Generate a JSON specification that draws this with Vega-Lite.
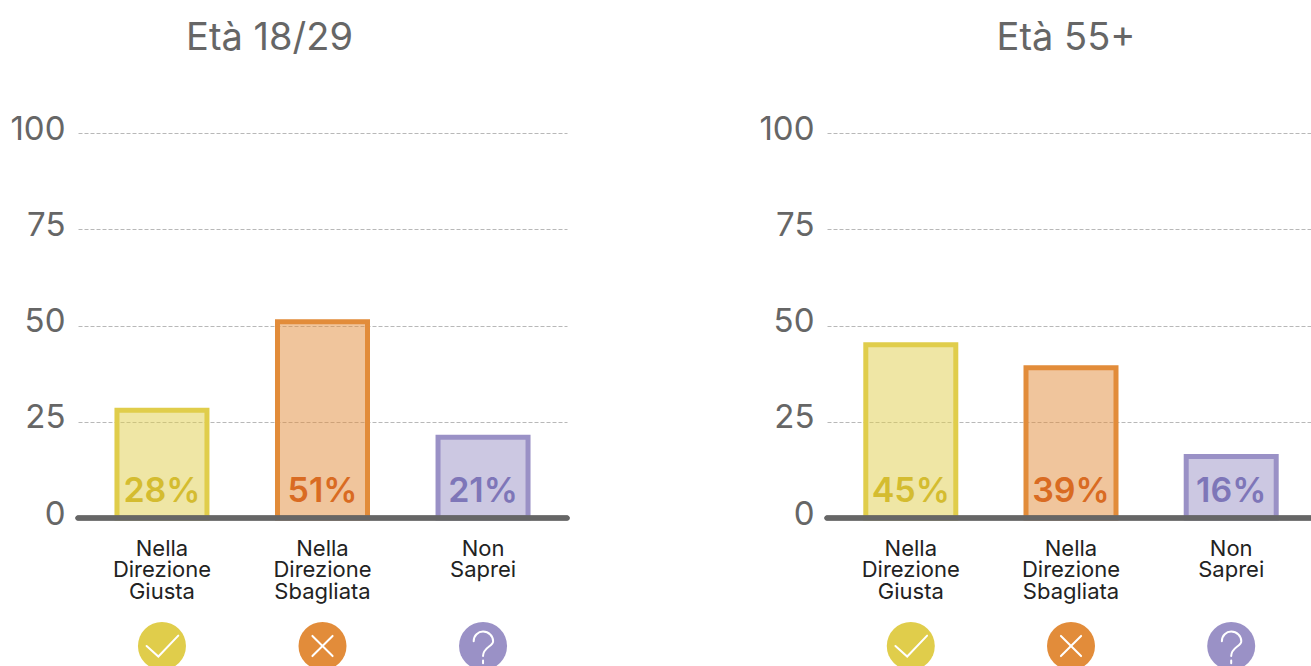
{
"$schema":"https://vega.github.io/schema/vega-lite/v6.json",
"background":"white",
"padding":{"left":9,"top":20,"right":0,"bottom":0},
"spacing":188,
"config":{"view":{"stroke":null},"font":"Inter","axis":{"labelFont":"Inter"},"title":{"font":"Inter"}},
"datasets":{"risposte":[
{"eta":"18/29","risposta":"Giusta","etichetta":"Nella|Direzione|Giusta","valore":28,"pct":"28%"},
{"eta":"18/29","risposta":"Sbagliata","etichetta":"Nella|Direzione|Sbagliata","valore":51,"pct":"51%"},
{"eta":"18/29","risposta":"Non Saprei","etichetta":"Non|Saprei","valore":21,"pct":"21%"},
{"eta":"55+","risposta":"Giusta","etichetta":"Nella|Direzione|Giusta","valore":45,"pct":"45%"},
{"eta":"55+","risposta":"Sbagliata","etichetta":"Nella|Direzione|Sbagliata","valore":39,"pct":"39%"},
{"eta":"55+","risposta":"Non Saprei","etichetta":"Non|Saprei","valore":16,"pct":"16%"}
]},
"hconcat":[
{"width":489,"height":385,
"title":{"text":"Età 18/29","fontSize":38,"fontWeight":"normal","color":"#666666","anchor":"middle","dx":-53,"offset":55},
"data":{"name":"risposte"},
"transform":[{"filter":"datum.eta === '18/29'"}],
"encoding":{
"x":{"field":"etichetta","type":"nominal","sort":null,"scale":{"paddingInner":0.44,"paddingOuter":0.243},"axis":{"title":null,"domain":false,"ticks":false,"labelAngle":0,"labelFontSize":22,"labelColor":"#222222","labelPadding":20,"labelLineHeight":21.5,"labelBaseline":"top","labelExpr":"split(datum.label,'|')"}},
"y":{"field":"valore","type":"quantitative","scale":{"domain":[0,100]},"axis":{"title":null,"domain":false,"ticks":false,"values":[0,25,50,75,100],"labelFontSize":33,"labelColor":"#666666","labelPadding":13,"labelOffset":-4,"grid":true,"gridColor":"#b8b8b8","gridWidth":1,"gridDash":[4,2]}}
},
"layer":[
{"mark":{"type":"bar","size":90,"strokeWidth":5,"fillOpacity":0.5},"encoding":{
"fill":{"field":"risposta","type":"nominal","legend":null,"scale":{"domain":["Giusta","Sbagliata","Non Saprei"],"range":["#E0CD4B","#E28C3A","#9A91C6"]}},
"stroke":{"field":"risposta","type":"nominal","legend":null,"scale":{"domain":["Giusta","Sbagliata","Non Saprei"],"range":["#E0CD4B","#E28C3A","#9A91C6"]}}}},
{"mark":{"type":"rule","strokeWidth":5,"strokeCap":"round","color":"#666666"},"encoding":{"y":{"datum":0},"x":{}}},
{"mark":{"type":"text","fontSize":34,"fontWeight":600,"baseline":"alphabetic","dy":-16},"encoding":{"y":{"datum":0},"text":{"field":"pct"},
"color":{"field":"risposta","type":"nominal","legend":null,"scale":{"domain":["Giusta","Sbagliata","Non Saprei"],"range":["#D4BC30","#D96B22","#7E76B8"]}}}},
{"mark":{"type":"point","shape":"circle","size":2304,"filled":true,"opacity":1,"yOffset":128},"encoding":{"y":{"datum":0},
"fill":{"field":"risposta","type":"nominal","legend":null,"scale":{"domain":["Giusta","Sbagliata","Non Saprei"],"range":["#E0CD4B","#E28C3A","#9A91C6"]}}}},
{"mark":{"type":"point","size":2304,"filled":false,"opacity":1,"stroke":"white","strokeWidth":2,"strokeCap":"round","yOffset":128},"encoding":{"y":{"datum":0},
"shape":{"field":"risposta","type":"nominal","legend":null,"scale":{"domain":["Giusta","Sbagliata","Non Saprei"],"range":["M-0.64,0 L-0.15,0.44 L0.68,-0.43","M-0.42,-0.42 L0.42,0.42 M-0.42,0.42 L0.42,-0.42","M-0.39,-0.2 C-0.39,-0.45 -0.2,-0.6 0,-0.6 C0.24,-0.6 0.42,-0.42 0.42,-0.2 C0.42,0.02 0,0.05 0,0.42 M0,0.6 L0,0.72"]}}}}
]},
{"width":488,"height":385,
"title":{"text":"Età 55+","fontSize":38,"fontWeight":"normal","color":"#666666","anchor":"middle","dx":-5,"offset":55},
"data":{"name":"risposte"},
"transform":[{"filter":"datum.eta === '55+'"}],
"encoding":{
"x":{"field":"etichetta","type":"nominal","sort":null,"scale":{"paddingInner":0.44,"paddingOuter":0.243},"axis":{"title":null,"domain":false,"ticks":false,"labelAngle":0,"labelFontSize":22,"labelColor":"#222222","labelPadding":20,"labelLineHeight":21.5,"labelBaseline":"top","labelExpr":"split(datum.label,'|')"}},
"y":{"field":"valore","type":"quantitative","scale":{"domain":[0,100]},"axis":{"title":null,"domain":false,"ticks":false,"values":[0,25,50,75,100],"labelFontSize":33,"labelColor":"#666666","labelPadding":13,"labelOffset":-4,"grid":true,"gridColor":"#b8b8b8","gridWidth":1,"gridDash":[4,2]}}
},
"layer":[
{"mark":{"type":"bar","size":90,"strokeWidth":5,"fillOpacity":0.5},"encoding":{
"fill":{"field":"risposta","type":"nominal","legend":null,"scale":{"domain":["Giusta","Sbagliata","Non Saprei"],"range":["#E0CD4B","#E28C3A","#9A91C6"]}},
"stroke":{"field":"risposta","type":"nominal","legend":null,"scale":{"domain":["Giusta","Sbagliata","Non Saprei"],"range":["#E0CD4B","#E28C3A","#9A91C6"]}}}},
{"mark":{"type":"rule","strokeWidth":5,"strokeCap":"round","color":"#666666"},"encoding":{"y":{"datum":0},"x":{}}},
{"mark":{"type":"text","fontSize":34,"fontWeight":600,"baseline":"alphabetic","dy":-16},"encoding":{"y":{"datum":0},"text":{"field":"pct"},
"color":{"field":"risposta","type":"nominal","legend":null,"scale":{"domain":["Giusta","Sbagliata","Non Saprei"],"range":["#D4BC30","#D96B22","#7E76B8"]}}}},
{"mark":{"type":"point","shape":"circle","size":2304,"filled":true,"opacity":1,"yOffset":128},"encoding":{"y":{"datum":0},
"fill":{"field":"risposta","type":"nominal","legend":null,"scale":{"domain":["Giusta","Sbagliata","Non Saprei"],"range":["#E0CD4B","#E28C3A","#9A91C6"]}}}},
{"mark":{"type":"point","size":2304,"filled":false,"opacity":1,"stroke":"white","strokeWidth":2,"strokeCap":"round","yOffset":128},"encoding":{"y":{"datum":0},
"shape":{"field":"risposta","type":"nominal","legend":null,"scale":{"domain":["Giusta","Sbagliata","Non Saprei"],"range":["M-0.64,0 L-0.15,0.44 L0.68,-0.43","M-0.42,-0.42 L0.42,0.42 M-0.42,0.42 L0.42,-0.42","M-0.39,-0.2 C-0.39,-0.45 -0.2,-0.6 0,-0.6 C0.24,-0.6 0.42,-0.42 0.42,-0.2 C0.42,0.02 0,0.05 0,0.42 M0,0.6 L0,0.72"]}}}}
]}
]}
